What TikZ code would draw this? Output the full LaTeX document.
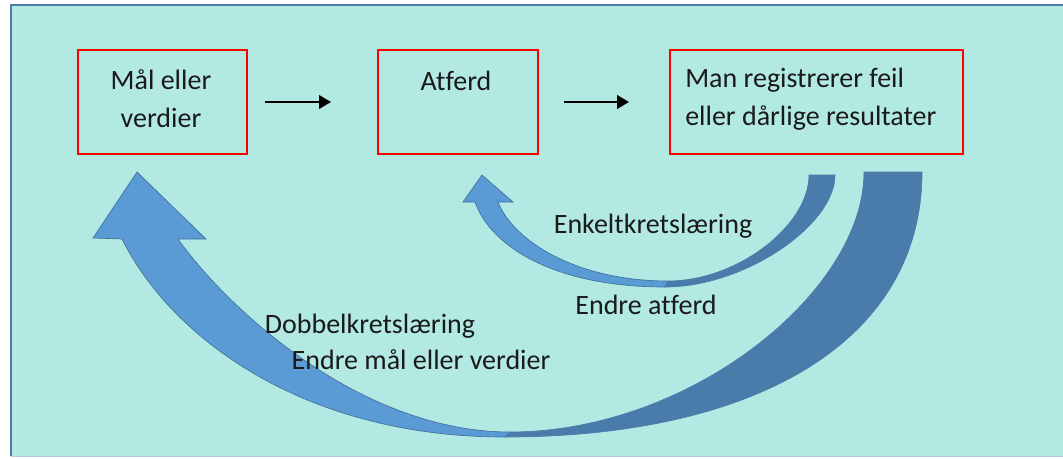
\documentclass[tikz,border=0pt]{standalone}
\usepackage{fontspec}
\setmainfont[Ligatures={NoCommon}]{Carlito}
\usetikzlibrary{arrows.meta,calc}
\definecolor{bgteal}{HTML}{B2EAE3}
\definecolor{frameblue}{HTML}{4F7BA8}
\definecolor{lightblue}{HTML}{5B9BD5}
\definecolor{darkblue}{HTML}{497CAA}
\definecolor{edgeblue}{HTML}{41719C}
\definecolor{txt}{HTML}{1A1A1A}
\begin{document}
\begin{tikzpicture}[x=0.75pt,y=-0.75pt,
  redbox/.style={draw=red,line width=1.4pt,inner sep=0pt},
  lbl/.style={font=\fontsize{21}{28.5}\selectfont,text=txt,inner sep=0pt},
  flowarrow/.style={line width=2pt,-{Triangle[length=9pt,width=10pt]}},
  lightpart/.style={fill=lightblue,draw=edgeblue,line width=0.5pt},
  darkpart/.style={fill=darkblue,draw=darkblue,line width=0.5pt}]
\useasboundingbox (0,0) rectangle (1063,458);
\fill[white] (0,0) rectangle (1063,458);
\fill[bgteal] (11,5) rectangle (1063,456);
\draw[frameblue,line width=1.6pt] (1063,5) -- (11,5) -- (11,456);
\draw[frameblue!40,line width=0.8pt] (11,456.5) -- (1063,456.5);

% boxes
\node[redbox,minimum width=169*0.75pt,minimum height=104*0.75pt] (b1) at (162.5,102) {};
\node[redbox,minimum width=160*0.75pt,minimum height=104*0.75pt] (b2) at (458,102) {};
\node[redbox,minimum width=293*0.75pt,minimum height=104*0.75pt] (b3) at (816.5,102) {};

\node[lbl,align=center] (t1) at (161,99) {Mål eller\\verdier};
\node[lbl] (t2) at (456,81) {Atferd};
\node[lbl,align=left,anchor=west] (t3) at (685,99) {Man registrerer feil\\eller dårlige resultater};

% straight arrows
\draw[flowarrow] ($(b1.east)+(17,0)$) -- ($(b2.west)+(-46,0)$);
\draw[flowarrow] ($(b2.east)+(25,0)$) -- ($(b3.west)+(-40,0)$);

% big curved arrow
\path[lightpart] (137,172) -- (206,239) -- (178,239)
  .. controls (227,308) and (360,432) .. (510,432)
  -- (505,437)
  .. controls (305,437) and (172,339) .. (122,239)
  -- (93,238) -- cycle;
\path[darkpart] (510,432) .. controls (690,432) and (864,292) .. (864,172)
  -- (922,172) .. controls (922,342) and (755,437) .. (505,437) -- cycle;

% small curved arrow
\path[lightpart] (482,175) -- (513,202) -- (498,202)
  .. controls (514,242) and (578,281) .. (668,281)
  -- (665,287)
  .. controls (555,287) and (491,247) .. (475,202)
  -- (463,202) -- cycle;
\path[darkpart] (668,281) .. controls (738,281) and (809,225) .. (809,175)
  -- (835,175) .. controls (835,225) and (745,287) .. (665,287) -- cycle;

% labels
\node[lbl] (l1) at (653,226) {Enkeltkretslæring};
\node[lbl] (l2) at (646,305) {Endre atferd};
\node[lbl] (l3) at (370,326) {Dobbelkretslæring};
\node[lbl] (l4) at (421,360) {Endre mål eller verdier};
\end{tikzpicture}
\end{document}
